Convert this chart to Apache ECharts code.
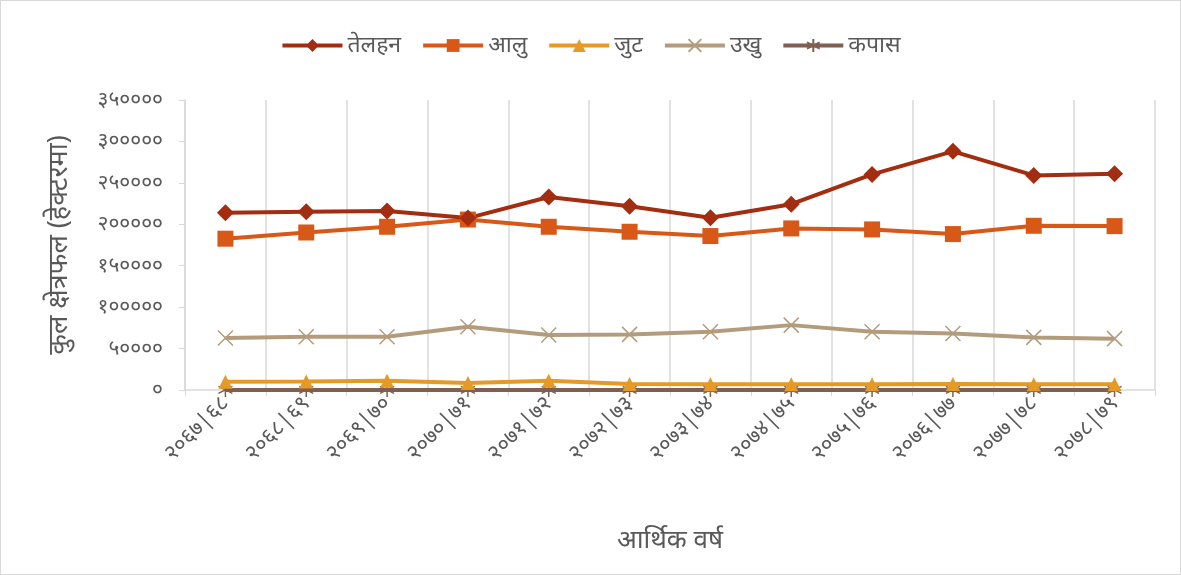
<!DOCTYPE html>
<html>
<head>
<meta charset="utf-8">
<script src="https://cdn.jsdelivr.net/npm/echarts@6/dist/echarts.min.js"></script>
<style>
  html, body { margin: 0; padding: 0; background: #fff; }
  #chart { width: 1179px; height: 573px; border: 1px solid #d9d9d9; }
</style>
</head>
<body>
<div id="chart"></div>
<script>
// आर्थिक वर्ष
const categories = ['२०६७|६८', '२०६८|६९', '२०६९|७०', '२०७०|७१', '२०७१|७२', '२०७२|७३',
  '२०७३|७४', '२०७४|७५', '२०७५|७६', '२०७६|७७', '२०७७|७८', '२०७८|७९']

const telhan = [213800, 215000, 216000, 207500, 233000, 221800, 208000, 224200, 260200, 288000, 259000, 261000]
const aalu = [182600, 190100, 197000, 205700, 197000, 191000, 185800, 195000, 193800, 188200, 198200, 197800]
const jut = [10000, 10200, 11200, 8400, 11200, 7200, 6800, 6800, 6900, 7200, 6900, 6800]
const ukhu = [62700, 64300, 64300, 76300, 66300, 67100, 70300, 78300, 70300, 68300, 63500, 62000]
const kapas = [100, 100, 100, 100, 100, 100, 100, 100, 100, 100, 100, 100]

const yTickLabels = ['०', '५००००', '१०००००', '१५००००', '२०००००', '२५००००', '३०००००', '३५००००']

const fontFamily = '"Noto Sans", "DejaVu Sans", sans-serif'
const textColor = '#595959'
const gridColor = '#d9d9d9'

const chart = echarts.init(document.getElementById('chart'))

function lineSeries(name, data, color, symbol, size, extra) {
  return Object.assign({
    name: name,
    type: 'line',
    data: data,
    symbol: symbol,
    symbolSize: size,
    lineStyle: { width: 4, color: color },
    itemStyle: { color: color },
    emphasis: { disabled: true },
    z: 2
  }, extra || {})
}

chart.setOption({
  animation: false,
  textStyle: { fontFamily: fontFamily },
  legend: {
    top: 28,
    left: 'center',
    itemWidth: 60,
    itemHeight: 16,
    itemGap: 20,
    lineStyle: { width: 4 },
    textStyle: { fontSize: 23, color: textColor, fontFamily: fontFamily },
    data: ['तेलहन', 'आलु', 'जुट', 'उखु', 'कपास']
  },
  grid: {
    left: 184,
    right: 25,
    top: 99,
    bottom: 184
  },
  xAxis: {
    type: 'category',
    data: categories,
    name: 'आर्थिक वर्ष',
    nameLocation: 'middle',
    nameGap: 138,
    nameTextStyle: { fontSize: 26, color: textColor },
    axisLine: { lineStyle: { color: gridColor, width: 1.5 } },
    axisTick: { show: true, length: 6, lineStyle: { color: gridColor } },
    splitLine: { show: true, lineStyle: { color: gridColor, width: 1.5 } },
    axisLabel: { rotate: 45, fontSize: 22, color: textColor, margin: 10 }
  },
  yAxis: {
    type: 'value',
    min: 0,
    max: 350000,
    interval: 50000,
    name: 'कुल क्षेत्रफल (हेक्टरमा)',
    nameLocation: 'middle',
    nameGap: 112,
    nameTextStyle: { fontSize: 27, color: textColor },
    axisLine: { show: true, lineStyle: { color: gridColor, width: 1.5 } },
    axisTick: { show: true, length: 6, lineStyle: { color: gridColor } },
    splitLine: { show: false },
    axisLabel: {
      fontSize: 21,
      color: textColor,
      margin: 22,
      formatter: function (v) { return yTickLabels[Math.round(v / 50000)] }
    }
  },
  series: [
    lineSeries('कपास', kapas, '#7f5f52', 'path://M5,0L5,10M0.7,2.5L9.3,7.5M0.7,7.5L9.3,2.5', 14,
      { itemStyle: { color: '#7f5f52', borderColor: '#7f5f52', borderWidth: 1.5 } }),
    lineSeries('उखु', ukhu, '#b39c7d', 'path://M0,0L10,10M10,0L0,10', 15,
      { itemStyle: { color: '#b39c7d', borderColor: '#b39c7d', borderWidth: 1.5 } }),
    lineSeries('जुट', jut, '#e49a25', 'triangle', 14),
    lineSeries('आलु', aalu, '#d85818', 'rect', 16),
    lineSeries('तेलहन', telhan, '#a32d10', 'diamond', 17)
  ]
})
</script>
</body>
</html>
